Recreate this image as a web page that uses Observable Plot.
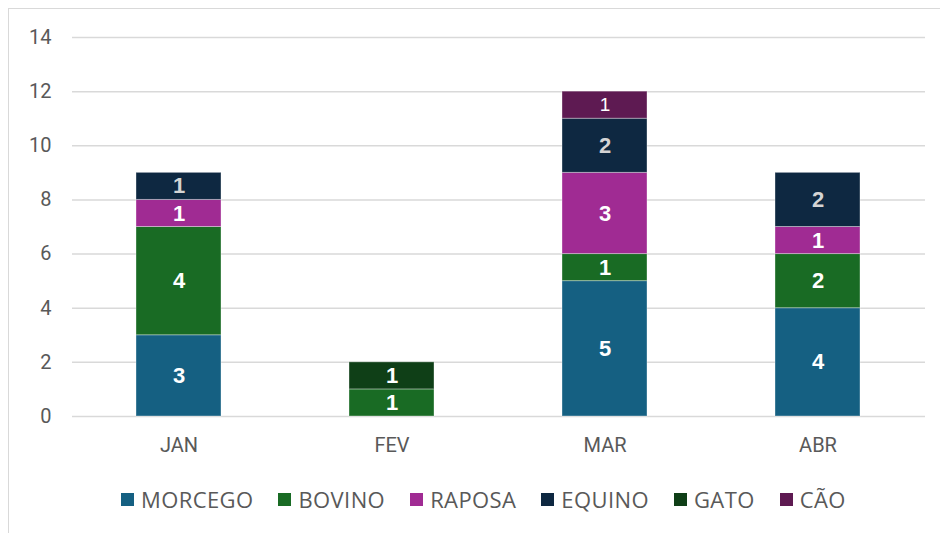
<!DOCTYPE html>
<html>
<head>
<meta charset="utf-8">
<script src="https://cdn.jsdelivr.net/npm/d3@7"></script>
<script src="https://cdn.jsdelivr.net/npm/@observablehq/plot@0.6"></script>
<style>
  html, body { margin: 0; padding: 0; background: #fff; }
  #wrap { position: relative; width: 940px; height: 533px; overflow: hidden; font-family: Roboto, "Liberation Sans", sans-serif; }
  #frame { position: absolute; left: 8px; top: 8px; width: 1000px; height: 600px; border-left: 1.5px solid #d9d9d9; border-top: 1.5px solid #d9d9d9; pointer-events: none; }
  #chart { position: absolute; left: 0; top: 0; }
  #legend { position: absolute; left: 121px; top: 484px; height: 30px; display: flex; align-items: center; font-family: "Open Sans", Roboto, sans-serif; font-size: 22px; letter-spacing: 0.4px; color: #595959; }
  #legend .item { display: flex; align-items: center; margin-right: 25px; }
  #legend .sw { width: 13px; height: 13px; margin-right: 7px; display: inline-block; }
</style>
</head>
<body>
<div id="wrap">
  <div id="chart"></div>
  <div id="frame"></div>
  <div id="legend"></div>
</div>
<script>
const months = ["JAN", "FEV", "MAR", "ABR"];
const seriesNames = ["MORCEGO", "BOVINO", "RAPOSA", "EQUINO", "GATO", "CÃO"];
const seriesColors = ["#156082", "#196B24", "#A02B93", "#0E2841", "#0F3F17", "#5E1A52"];
const morcego = [3, 0, 5, 4];
const bovino = [4, 1, 1, 2];
const raposa = [1, 0, 3, 1];
const equino = [1, 0, 2, 2];
const gato = [0, 1, 0, 0];
const cao = [0, 0, 1, 0];
const yTicks = [0, 2, 4, 6, 8, 10, 12, 14];

const seriesValues = [morcego, bovino, raposa, equino, gato, cao];
const data = [];
seriesNames.forEach((s, si) => {
  months.forEach((m, mi) => {
    const v = seriesValues[si][mi];
    if (v > 0) data.push({ month: m, series: s, value: v });
  });
});

const labelColor = d => d.series === "EQUINO" ? "#d4d4d4" : "#ffffff";
const stackOpts = { x: "month", y: "value", z: "series", order: seriesNames };

const chart = Plot.plot({
  width: 940,
  height: 470,
  marginTop: 37,
  marginBottom: 54,
  marginLeft: 72,
  marginRight: 15,
  style: { fontFamily: "Roboto, 'Liberation Sans', sans-serif", background: "transparent" },
  x: { domain: months, paddingInner: 0.6, paddingOuter: 0.3, label: null },
  y: { domain: [0, 14], label: null },
  color: { domain: seriesNames, range: seriesColors },
  marks: [
    Plot.gridY(yTicks, { stroke: "#d9d9d9", strokeOpacity: 1, strokeWidth: 1.5 }),
    Plot.axisY(yTicks, { tickSize: 0, tickPadding: 21, fontSize: 20, fill: "#595959", label: null }),
    Plot.axisX({ tickSize: 0, tickPadding: 21, fontSize: 20, fill: "#595959", label: null }),
    Plot.barY(data, Plot.stackY({ ...stackOpts, fill: "series", stroke: "#ffffff", strokeOpacity: 0.35, strokeWidth: 1 })),
    Plot.text(data, Plot.stackY({
      ...stackOpts,
      text: d => d.series === "CÃO" ? null : String(d.value),
      fill: labelColor,
      fontSize: 22,
      fontWeight: "bold",
      fontFamily: "'Liberation Sans', Arial, sans-serif"
    })),
    Plot.text(data, Plot.stackY({
      ...stackOpts,
      text: d => d.series === "CÃO" ? String(d.value) : null,
      fill: "#ffffff",
      fontSize: 19,
      fontFamily: "'Liberation Sans', Arial, sans-serif"
    }))
  ]
});
document.getElementById("chart").appendChild(chart);

const legend = document.getElementById("legend");
seriesNames.forEach((s, i) => {
  const item = document.createElement("div");
  item.className = "item";
  const sw = document.createElement("span");
  sw.className = "sw";
  sw.style.background = seriesColors[i];
  const t = document.createElement("span");
  t.textContent = s;
  item.appendChild(sw);
  item.appendChild(t);
  legend.appendChild(item);
});
</script>
</body>
</html>
